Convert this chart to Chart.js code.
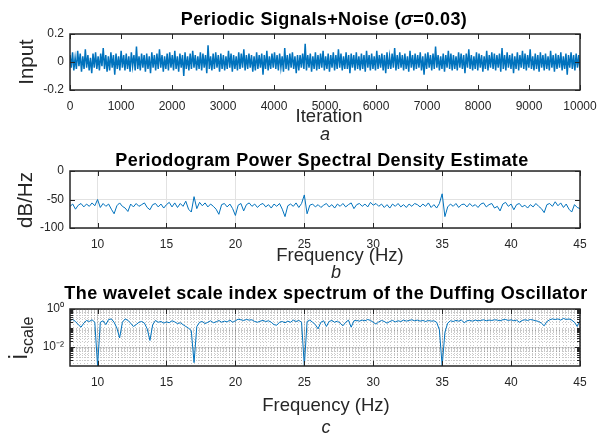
<!DOCTYPE html>
<html>
<head>
<meta charset="utf-8">
<script src="https://cdn.jsdelivr.net/npm/chart.js@4.4.0/dist/chart.umd.min.js"></script>
<style>
  body { margin: 0; background: #fff; }
  #wrap { position: relative; width: 599px; height: 434px; background: #fff; overflow: hidden;
          font-family: "Liberation Sans", Arial, sans-serif; color: #111; }
  canvas { position: absolute; left: 0; }
  .lbl { position: absolute; transform: translate(-50%, -50%); white-space: nowrap; line-height: 1; }
  .ttl { font-weight: bold; font-size: 18px; letter-spacing: 0.4px; color: #000; }
  .axt { font-size: 18.5px; color: #262626; }
  .rot { transform: translate(-50%, -50%) rotate(-90deg); font-size: 20.5px; }
  .cap { font-size: 18px; font-style: italic; color: #262626; }
</style>
</head>
<body>
<div id="wrap">
  <canvas id="chartA" width="599" height="140" style="top:0"></canvas>
  <canvas id="chartB" width="599" height="140" style="top:140px"></canvas>
  <canvas id="chartC" width="599" height="154" style="top:280px"></canvas>

  <div class="lbl ttl" style="left:324px; top:19px">Periodic Signals+Noise (<i>σ</i>=0.03)</div>
  <div class="lbl axt rot" style="left:26px; top:62px">Input</div>
  <div class="lbl axt" style="left:329px; top:116px">Iteration</div>
  <div class="lbl cap" style="left:325px; top:134px">a</div>

  <div class="lbl ttl" style="left:322px; top:160px">Periodogram Power Spectral Density Estimate</div>
  <div class="lbl axt rot" style="left:25px; top:200px">dB/Hz</div>
  <div class="lbl axt" style="left:340px; top:255px">Frequency (Hz)</div>
  <div class="lbl cap" style="left:336px; top:272px">b</div>

  <div class="lbl ttl" style="left:326px; top:293px">The wavelet scale index spectrum of the Duffing Oscillator</div>
  <div class="lbl axt rot" style="left:21px; top:338px"><span style="font-size:25px">i</span><sub style="font-size:16px">scale</sub></div>
  <div class="lbl axt" style="left:326px; top:405px">Frequency (Hz)</div>
  <div class="lbl cap" style="left:326px; top:427px">c</div>
</div>

<script>
// ---- data ----
// panel a: input signal (downsampled), 0..10000 iterations
var inputSignal = [
  .05,-.04,.07,-.06,.03,-.05,.08,-.03,.06,-.07,.04,-.05,.09,-.04,.05,-.06,.03,-.08,.06,-.04,
  .07,-.05,.04,-.06,.06,-.03,.10,-.05,.05,-.07,.04,-.06,.07,-.04,.05,-.09,.06,-.05,.04,-.06,
  .08,-.04,.05,-.06,.06,-.05,.04,-.07,.07,-.03,.05,-.06,.11,-.05,.04,-.06,.06,-.04,.05,-.07,
  .06,-.05,.04,-.08,.07,-.04,.05,-.06,.06,-.05,.09,-.04,.05,-.07,.04,-.05,.06,-.06,.07,-.04,
  .05,-.06,.08,-.05,.04,-.07,.06,-.04,.05,-.10,.07,-.05,.04,-.06,.06,-.05,.08,-.04,.05,-.06,
  .04,-.05,.07,-.06,.06,-.04,.05,-.08,.12,-.05,.04,-.06,.06,-.05,.07,-.04,.05,-.07,.06,-.05,
  .05,-.06,.04,-.05,.08,-.04,.06,-.07,.05,-.05,.04,-.06,.07,-.05,.06,-.04,.09,-.06,.05,-.05,
  .06,-.04,.05,-.07,.04,-.06,.07,-.05,.05,-.04,.06,-.09,.05,-.05,.08,-.06,.04,-.05,.06,-.04,
  .07,-.05,.05,-.06,.06,-.04,.04,-.07,.10,-.05,.05,-.06,.06,-.04,.07,-.05,.04,-.08,.05,-.06,
  .05,-.04,.06,-.05,.13,-.06,.05,-.04,.06,-.07,.04,-.05,.07,-.06,.05,-.05,.06,-.04,.08,-.06,
  .04,-.05,.06,-.07,.05,-.04,.07,-.06,.05,-.05,.09,-.04,.06,-.06,.04,-.05,.07,-.05,.05,-.08,
  .06,-.04,.05,-.06,.07,-.05,.04,-.06,.06,-.05,.05,-.07,.08,-.04,.05,-.06,.06,-.05,.04,-.06,
  .08,-.05,.05,-.04,.06,-.06,.05,-.08,.07,-.05,.04,-.05,.06,-.04,.10,-.06,.05,-.05,.07,-.04,
  .05,-.06,.06,-.05,.04,-.07,.08,-.04,.05,-.06,.06,-.05,.05,-.04,.07,-.06,.04,-.09,.06,-.05,
  .07,-.04,.05,-.06,.06,-.05,.11,-.04,.05,-.06,.04,-.05,.06,-.07,.05,-.04,.08,-.05,.06,-.06,
  .05,-.05,.04,-.06,.07,-.04,.06,-.05,.05,-.08,.06,-.04,.09,-.05,.05,-.06,.04,-.05,.07,-.06,
  .06,-.04,.05,-.07,.04,-.05,.08,-.06,.05,-.04,.07,-.05,.06,-.06,.05,-.04,.06,-.07,.10,-.05,
  .05,-.06,.07,-.04,.05,-.05,.06,-.08,.04,-.05,.07,-.06,.05,-.04,.08,-.05,.06,-.06,.05,-.04,
  .09,-.05,.04,-.06,.06,-.05,.05,-.07,.07,-.04,.05,-.06,.06,-.05,.04,-.06,.08,-.04,.05,-.07,
  .06,-.05,.05,-.04,.07,-.06,.04,-.05,.06,-.09,.05,-.04,.07,-.05,.05,-.06,.06,-.04,.05,-.06
];
var iterMax = 10000;
var iterTicks = [0,1000,2000,3000,4000,5000,6000,7000,8000,9000,10000];
var inputTicks = [-0.2, 0, 0.2];

// panel b: periodogram PSD (dB/Hz), 8..45 Hz every 0.2 Hz
var freqStart = 8, freqStep = 0.2;
var psdDb = [
  -62,-58,-67,-60,-57,-63,-58,-62,-56,-61,-50,-64,-57,-62,-58,-67,-75,-61,-56,-62,
  -65,-71,-58,-63,-57,-62,-59,-56,-64,-68,-59,-57,-63,-58,-65,-59,-55,-63,-56,-64,
  -57,-62,-53,-67,-72,-45,-66,-55,-61,-56,-63,-58,-62,-67,-76,-59,-57,-63,-58,-66,
  -78,-60,-57,-70,-59,-56,-62,-58,-64,-59,-57,-63,-59,-65,-58,-62,-57,-67,-80,-61,
  -58,-62,-56,-64,-57,-42,-75,-60,-58,-63,-59,-64,-60,-57,-63,-59,-65,-58,-62,-57,
  -63,-59,-56,-66,-59,-57,-62,-58,-63,-55,-60,-57,-62,-58,-64,-59,-65,-58,-62,-57,
  -63,-59,-64,-58,-62,-57,-59,-63,-58,-62,-56,-64,-59,-65,-57,-40,-80,-63,-58,-62,
  -57,-64,-59,-58,-63,-57,-62,-59,-64,-58,-56,-63,-59,-57,-65,-62,-70,-58,-55,-62,
  -58,-68,-59,-57,-63,-60,-65,-59,-63,-57,-62,-66,-73,-59,-57,-62,-54,-61,-56,-64,
  -58,-67,-72,-59,-64,-66
];
var freqTicks = [10,15,20,25,30,35,40,45];
var dbTicks = [-100, -50, 0];

// panel c: wavelet scale index, same frequency grid
var scaleIndex = [
  0.25,0.28,0.22,0.15,0.11,0.18,0.25,0.22,0.27,0.20,0.001,0.20,0.24,0.15,0.28,0.30,0.20,0.10,0.03,0.20,
  0.30,0.25,0.18,0.12,0.15,0.20,0.22,0.18,0.09,0.022,0.15,0.25,0.20,0.22,0.18,0.21,0.19,0.24,0.21,0.17,
  0.19,0.15,0.12,0.10,0.07,0.0015,0.12,0.20,0.22,0.17,0.20,0.24,0.19,0.21,0.25,0.20,0.23,0.21,0.26,0.20,
  0.24,0.29,0.27,0.25,0.28,0.26,0.27,0.22,0.20,0.23,0.25,0.22,0.24,0.20,0.15,0.14,0.20,0.22,0.19,0.23,
  0.20,0.26,0.22,0.25,0.20,0.001,0.22,0.26,0.20,0.15,0.09,0.20,0.24,0.12,0.22,0.25,0.20,0.23,0.18,0.13,
  0.20,0.26,0.11,0.24,0.25,0.23,0.26,0.24,0.28,0.25,0.20,0.16,0.21,0.25,0.22,0.18,0.22,0.25,0.21,0.24,
  0.22,0.26,0.23,0.25,0.27,0.24,0.26,0.23,0.25,0.22,0.25,0.23,0.24,0.20,0.08,0.001,0.06,0.18,0.24,0.22,
  0.25,0.23,0.26,0.19,0.24,0.25,0.23,0.26,0.24,0.25,0.27,0.24,0.26,0.25,0.27,0.26,0.24,0.27,0.28,0.25,
  0.27,0.24,0.26,0.20,0.25,0.27,0.25,0.28,0.26,0.24,0.22,0.18,0.13,0.22,0.27,0.30,0.28,0.30,0.26,0.32,
  0.28,0.30,0.26,0.20,0.12,0.25
];
var scaleTicks = [0.01, 1];
var scaleTickLabels = ['10\u207B\u00B2', '10\u2070'];

// ---- common look (MATLAB-ish) ----
var lineBlue = '#0072BD';
var axisColor = '#262626';
Chart.defaults.font.family = '"Liberation Sans", Arial, sans-serif';
Chart.defaults.font.size = 12;
Chart.defaults.color = axisColor;

// box, inward ticks and (optional) dotted minor grid
var framePlugin = {
  id: 'frame',
  beforeDatasetsDraw: function (chart, args, opts) {
    if (!opts.minor) return;
    var ctx = chart.ctx, a = chart.chartArea, x = chart.scales.x, y = chart.scales.y;
    ctx.save();
    ctx.strokeStyle = 'rgba(38,38,38,0.25)';
    ctx.lineWidth = 1;
    ctx.setLineDash([1, 2]);
    for (var f = x.min; f <= x.max; f += 0.25) {
      var px = Math.round(x.getPixelForValue(f)) + 0.5;
      ctx.beginPath(); ctx.moveTo(px, a.top); ctx.lineTo(px, a.bottom); ctx.stroke();
    }
    for (var d = -3; d < 0; d++) {
      for (var k = 1; k <= 9; k++) {
        var v = k * Math.pow(10, d);
        if (v <= y.min || v >= y.max) continue;
        var py = Math.round(y.getPixelForValue(v)) + 0.5;
        ctx.beginPath(); ctx.moveTo(a.left, py); ctx.lineTo(a.right, py); ctx.stroke();
      }
    }
    ctx.restore();
  },
  afterDraw: function (chart, args, opts) {
    var ctx = chart.ctx, a = chart.chartArea, x = chart.scales.x, y = chart.scales.y;
    var len = 5;
    ctx.save();
    ctx.strokeStyle = axisColor;
    ctx.lineWidth = 1;
    x.ticks.forEach(function (t) {
      var px = Math.round(x.getPixelForValue(t.value)) + 0.5;
      ctx.beginPath();
      ctx.moveTo(px, a.bottom); ctx.lineTo(px, a.bottom - len);
      ctx.moveTo(px, a.top); ctx.lineTo(px, a.top + len);
      ctx.stroke();
    });
    y.ticks.forEach(function (t) {
      var py = Math.round(y.getPixelForValue(t.value)) + 0.5;
      ctx.beginPath();
      ctx.moveTo(a.left, py); ctx.lineTo(a.left + len, py);
      ctx.moveTo(a.right, py); ctx.lineTo(a.right - len, py);
      ctx.stroke();
    });
    if (opts.minor) {
      for (var d = -3; d < 0; d++) {
        for (var k = 1; k <= 9; k++) {
          var v = k * Math.pow(10, d);
          if (v <= y.min || v >= y.max) continue;
          var py = Math.round(y.getPixelForValue(v)) + 0.5;
          ctx.beginPath();
          ctx.moveTo(a.left, py); ctx.lineTo(a.left + 3, py);
          ctx.moveTo(a.right, py); ctx.lineTo(a.right - 3, py);
          ctx.stroke();
        }
      }
    }
    ctx.lineWidth = 1.5;
    ctx.strokeRect(a.left, a.top, a.right - a.left, a.bottom - a.top);
    ctx.restore();
  }
};

function fixTicks(list) {
  return function (scale) {
    scale.ticks = list.map(function (v) { return { value: v }; });
  };
}

function baseOptions(topPad, xHeight) {
  return {
    responsive: false,
    animation: false,
    events: [],
    layout: { padding: { top: topPad, right: 19, left: 0, bottom: 0 } },
    plugins: { legend: { display: false }, tooltip: { enabled: false } },
    elements: { point: { radius: 0 }, line: { tension: 0 } },
    scales: {
      x: {
        type: 'linear',
        ticks: { padding: 9, maxRotation: 0, autoSkip: false, callback: function (v) { return String(v); } },
        grid: { display: false, drawTicks: false },
        border: { display: false },
        afterFit: function (s) { s.height = xHeight; s.paddingLeft = 0; s.paddingRight = 0; }
      },
      y: {
        ticks: { padding: 6 },
        grid: { display: false, drawTicks: false },
        border: { display: false },
        afterFit: function (s) { s.width = 70; s.paddingTop = 0; s.paddingBottom = 0; }
      }
    }
  };
}

// panel a
var optA = baseOptions(34, 50);
optA.scales.x.min = 0;
optA.scales.x.max = iterMax;
optA.scales.x.afterBuildTicks = fixTicks(iterTicks);
optA.scales.y.min = -0.2;
optA.scales.y.max = 0.2;
optA.scales.y.afterBuildTicks = fixTicks(inputTicks);
optA.scales.y.ticks.callback = function (v) { return v === 0 ? '0' : String(v); };
optA.plugins.frame = { minor: false };

new Chart(document.getElementById('chartA'), {
  type: 'line',
  data: {
    datasets: [{
      data: inputSignal.map(function (v, i) { return { x: i * iterMax / (inputSignal.length - 1), y: v }; }),
      borderColor: lineBlue,
      borderWidth: 1.5
    }]
  },
  options: optA,
  plugins: [framePlugin]
});

// panel b
var optB = baseOptions(31, 52);
optB.scales.x.min = 8;
optB.scales.x.max = 45;
optB.scales.x.afterBuildTicks = fixTicks(freqTicks);
optB.scales.x.grid = { display: true, drawTicks: false, color: '#e2e2e2' };
optB.scales.y.min = -100;
optB.scales.y.max = 0;
optB.scales.y.afterBuildTicks = fixTicks(dbTicks);
optB.scales.y.grid = { display: true, drawTicks: false, color: '#e2e2e2' };
optB.plugins.frame = { minor: false };

new Chart(document.getElementById('chartB'), {
  type: 'line',
  data: {
    datasets: [{
      data: psdDb.map(function (v, i) { return { x: freqStart + i * freqStep, y: v }; }),
      borderColor: lineBlue,
      borderWidth: 1
    }]
  },
  options: optB,
  plugins: [framePlugin]
});

// panel c
var optC = baseOptions(29, 68);
optC.scales.x.min = 8;
optC.scales.x.max = 45;
optC.scales.x.afterBuildTicks = fixTicks(freqTicks);
optC.scales.x.grid = { display: true, drawTicks: false, color: '#d6d6d6' };
optC.scales.y.type = 'logarithmic';
optC.scales.y.min = 0.001;
optC.scales.y.max = 1;
optC.scales.y.afterBuildTicks = fixTicks(scaleTicks);
optC.scales.y.ticks.callback = function (v) {
  var i = scaleTicks.indexOf(v);
  return i >= 0 ? scaleTickLabels[i] : '';
};
optC.scales.y.grid = { display: true, drawTicks: false, color: '#d6d6d6' };
optC.plugins.frame = { minor: true };

new Chart(document.getElementById('chartC'), {
  type: 'line',
  data: {
    datasets: [{
      data: scaleIndex.map(function (v, i) { return { x: freqStart + i * freqStep, y: v }; }),
      borderColor: lineBlue,
      borderWidth: 1
    }]
  },
  options: optC,
  plugins: [framePlugin]
});
</script>
</body>
</html>
